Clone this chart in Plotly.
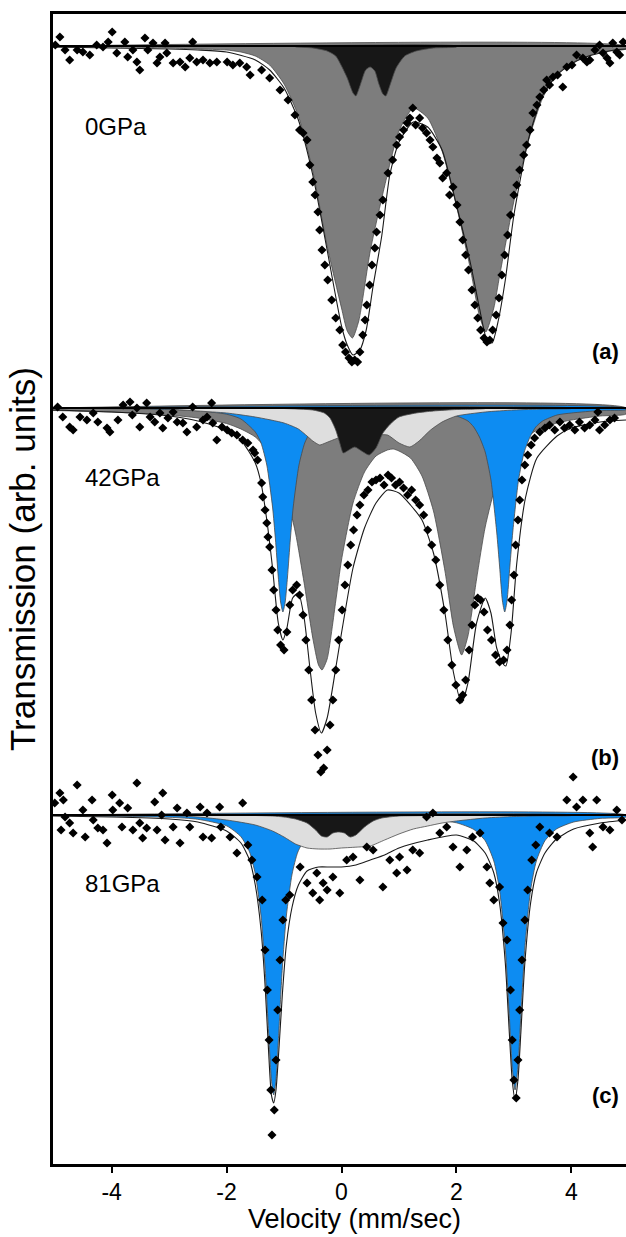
import plotly.graph_objects as go

# ---------------- panel offsets (baseline of each spectrum, arb. units) -------------
OFF_A, OFF_B, OFF_C = 11.18, 7.56, 3.49
PANEL_LABELS = ["0GPa", "42GPa", "81GPa"]
PANEL_TAGS = ["(a)", "(b)", "(c)"]
X_TICKS = [-4, -2, 0, 2, 4]

# ---------------- panel (a) 0 GPa ----------------
GRAY_A_V = [-5.02, -4.0, -3.0, -2.5, -2.0, -1.75, -1.5, -1.25, -1.0, -0.75, -0.5, -0.25, 0.0, 0.1, 0.19, 0.3,
            0.5, 0.75, 1.0, 1.25, 1.5, 1.75, 2.0, 2.25, 2.4, 2.51, 2.65, 2.75, 3.0, 3.25, 3.5, 3.75, 4.0, 4.5, 4.95]
GRAY_A_T = [-0.01, -0.01, -0.02, -0.03, -0.04, -0.06, -0.10, -0.19, -0.38, -0.70, -1.25, -2.00, -2.62, -2.85, -2.92,
            -2.75, -2.05, -1.40, -0.85, -0.62, -0.72, -1.05, -1.60, -2.25, -2.70, -2.86, -2.62, -2.30, -1.55, -0.95,
            -0.52, -0.28, -0.17, -0.06, -0.03]
DARK_A_V = [-0.8, -0.5, -0.25, -0.1, 0.0, 0.1, 0.2, 0.25, 0.32, 0.42, 0.5, 0.58, 0.65, 0.72, 0.77, 0.85, 0.95,
            1.1, 1.3, 1.6, 2.0]
DARK_A_T = [-0.01, -0.02, -0.05, -0.10, -0.20, -0.32, -0.47, -0.50, -0.40, -0.24, -0.21, -0.25, -0.38, -0.48,
            -0.50, -0.38, -0.22, -0.10, -0.05, -0.02, -0.01]
ENV_A_V = [-5.02, -3.0, -2.5, -2.0, -1.5, -1.25, -1.0, -0.75, -0.5, -0.25, 0.0, 0.1, 0.2, 0.32, 0.43, 0.55, 0.7,
           0.84, 1.0, 1.25, 1.5, 1.75, 2.0, 2.25, 2.4, 2.53, 2.62, 2.73, 2.85, 3.0, 3.25, 3.5, 3.75, 4.0, 4.25,
           4.5, 4.75, 4.95]
ENV_A_T = [-0.01, -0.03, -0.04, -0.06, -0.14, -0.24, -0.42, -0.74, -1.29, -2.04, -2.80, -2.99, -3.09, -3.04,
           -2.84, -2.40, -1.90, -1.29, -0.96, -0.76, -0.81, -1.04, -1.59, -2.19, -2.62, -2.94, -2.97, -2.74, -2.34,
           -1.69, -0.94, -0.49, -0.29, -0.18, -0.11, -0.07, -0.04, -0.03]
PTS_A_V = [-4.98, -4.90, -4.81, -4.73, -4.60, -4.50, -4.38, -4.26, -4.15, -4.06, -3.99, -3.91, -3.77, -3.72,
           -3.63, -3.56, -3.51, -3.42, -3.37, -3.28, -3.21, -3.16, -3.07, -3.04, -2.93, -2.81, -2.72, -2.64,
           -2.59, -2.52, -2.41, -2.29, -2.17, -1.99, -1.89, -1.77, -1.65, -1.59, -1.39, -1.25, -1.07, -0.93,
           -0.81, -0.73, -0.67, -0.60, -0.55, -0.50, -0.46, -0.41, -0.38, -0.34, -0.29, -0.24, -0.17, -0.10,
           -0.03, 0.02, 0.07, 0.13, 0.18, 0.23, 0.28, 0.32, 0.37, 0.41, 0.44, 0.49, 0.53, 0.58, 0.61, 0.67,
           0.72, 0.81, 0.89, 0.96, 1.01, 1.08, 1.14, 1.19, 1.24, 1.29, 1.36, 1.41, 1.48, 1.54, 1.59, 1.66, 1.71,
           1.76, 1.83, 1.88, 1.94, 2.01, 2.06, 2.11, 2.16, 2.21, 2.27, 2.32, 2.37, 2.42, 2.48, 2.53, 2.58, 2.63,
           2.69, 2.74, 2.79, 2.84, 2.89, 2.94, 3.00, 3.05, 3.10, 3.17, 3.22, 3.28, 3.33, 3.40, 3.45, 3.52, 3.57,
           3.62, 3.68, 3.76, 3.85, 3.92, 4.01, 4.09, 4.20, 4.27, 4.32, 4.41, 4.49, 4.55, 4.62, 4.67, 4.72, 4.79,
           4.84, 4.90]
PTS_A_T = [0.01, 0.09, -0.04, -0.14, -0.04, -0.06, -0.09, 0.01, -0.01, 0.04, 0.14, -0.07, 0.04, -0.11, -0.04,
           -0.16, -0.24, 0.08, -0.04, 0.03, -0.17, -0.11, 0.03, -0.07, -0.17, -0.16, -0.21, -0.12, 0.04, -0.16,
           -0.14, -0.17, -0.16, -0.16, -0.19, -0.17, -0.21, -0.29, -0.24, -0.32, -0.44, -0.54, -0.69, -0.84,
           -0.87, -0.94, -1.19, -1.36, -1.49, -1.66, -1.84, -2.04, -2.19, -2.34, -2.54, -2.72, -2.84, -2.99,
           -3.06, -3.12, -3.16, -3.14, -3.16, -3.06, -2.89, -2.74, -2.59, -2.39, -2.19, -2.02, -1.86, -1.69,
           -1.54, -1.27, -1.14, -0.99, -0.91, -0.84, -0.77, -0.72, -0.62, -0.79, -0.72, -0.82, -0.87, -0.94,
           -1.01, -1.12, -1.17, -1.32, -1.27, -1.49, -1.41, -1.59, -1.76, -1.94, -2.09, -2.24, -2.44, -2.59,
           -2.72, -2.84, -2.92, -2.96, -2.94, -2.84, -2.69, -2.52, -2.29, -2.09, -1.89, -1.69, -1.49, -1.39,
           -1.24, -1.09, -0.99, -0.84, -0.67, -0.59, -0.51, -0.44, -0.34, -0.39, -0.31, -0.29, -0.41, -0.21,
           -0.19, -0.09, -0.12, -0.16, -0.14, -0.04, 0.01, -0.07, -0.12, -0.17, 0.03, -0.06, -0.09, 0.04]

# ---------------- panel (b) 42 GPa ----------------
GRAY_B_V = [-5.02, -4.0, -3.0, -2.5, -2.0, -1.75, -1.5, -1.25, -1.0, -0.8, -0.65, -0.5, -0.4, -0.34, -0.25, -0.1,
            0.0, 0.2, 0.4, 0.6, 0.8, 0.9, 1.0, 1.2, 1.4, 1.6, 1.8, 1.95, 2.09, 2.2, 2.35, 2.5, 2.7, 2.9, 3.1, 3.4,
            3.75, 4.0, 4.5, 4.95]
GRAY_B_T = [-0.025, -0.04, -0.07, -0.10, -0.155, -0.21, -0.29, -0.45, -0.78, -1.25, -1.75, -2.30, -2.57, -2.62,
            -2.51, -1.93, -1.52, -0.95, -0.64, -0.48, -0.42, -0.41, -0.43, -0.50, -0.68, -1.03, -1.63, -2.19,
            -2.47, -2.28, -1.71, -1.19, -0.74, -0.49, -0.35, -0.22, -0.15, -0.12, -0.08, -0.06]
BLUE_B_V = [-5.02, -4.0, -3.0, -2.5, -2.0, -1.75, -1.5, -1.4, -1.3, -1.2, -1.15, -1.1, -1.06, -1.02, -0.98, -0.94,
            -0.89, -0.84, -0.74, -0.64, -0.54, -0.29, -0.04, 0.5, 1.0, 1.5, 2.0, 2.2, 2.3, 2.4, 2.5, 2.6, 2.7,
            2.75, 2.8, 2.84, 2.88, 2.93, 2.98, 3.08, 3.18, 3.28, 3.38, 3.5, 3.75, 4.0, 4.5, 4.95]
BLUE_B_T = [-0.004, -0.007, -0.016, -0.028, -0.062, -0.11, -0.24, -0.35, -0.57, -0.99, -1.31, -1.69, -1.94,
            -2.04, -1.94, -1.69, -1.31, -0.99, -0.57, -0.35, -0.24, -0.12, -0.07, -0.04, -0.03, -0.04, -0.08,
            -0.13, -0.19, -0.29, -0.44, -0.72, -1.24, -1.58, -1.93, -2.04, -1.93, -1.58, -1.24, -0.72, -0.44,
            -0.29, -0.19, -0.13, -0.07, -0.05, -0.025, -0.017]
LGRAY_B_V = [-3.0, -2.5, -2.0, -1.5, -1.0, -0.75, -0.6, -0.5, -0.38, -0.28, -0.15, 0.0, 0.3, 0.6, 0.8, 1.0, 1.19,
             1.35, 1.55, 1.75, 2.0, 2.5, 3.0, 3.5, 4.0]
LGRAY_B_T = [-0.01, -0.03, -0.05, -0.09, -0.15, -0.21, -0.28, -0.33, -0.37, -0.35, -0.32, -0.29, -0.28, -0.27,
             -0.27, -0.35, -0.39, -0.33, -0.22, -0.14, -0.08, -0.04, -0.02, -0.01, -0.005]
DARK_B_V = [-1.0, -0.5, -0.3, -0.2, -0.1, -0.03, 0.03, 0.1, 0.23, 0.35, 0.48, 0.6, 0.72, 0.85, 1.0, 1.3, 1.6,
            2.0, 2.5]
DARK_B_T = [-0.005, -0.02, -0.05, -0.10, -0.22, -0.35, -0.45, -0.43, -0.39, -0.43, -0.47, -0.40, -0.25, -0.16,
            -0.09, -0.05, -0.03, -0.015, -0.005]
ENV_B_V = [-5.02, -4.0, -3.0, -2.5, -2.0, -1.75, -1.5, -1.4, -1.3, -1.2, -1.1, -1.02, -0.95, -0.85, -0.75, -0.65,
           -0.55, -0.45, -0.35, -0.25, -0.1, 0.0, 0.2, 0.4, 0.6, 0.8, 1.0, 1.2, 1.4, 1.6, 1.8, 1.95, 2.09, 2.2,
           2.35, 2.5, 2.6, 2.7, 2.8, 2.86, 2.95, 3.05, 3.2, 3.4, 3.75, 4.0, 4.5, 4.95]
ENV_B_T = [-0.02, -0.04, -0.08, -0.13, -0.22, -0.32, -0.55, -0.75, -1.12, -1.60, -2.15, -2.32, -2.20, -1.90,
           -1.85, -2.10, -2.60, -3.05, -3.25, -3.10, -2.60, -2.25, -1.60, -1.20, -0.95, -0.82, -0.85, -0.97,
           -1.12, -1.45, -2.05, -2.65, -2.95, -2.75, -2.15, -1.90, -2.05, -2.40, -2.55, -2.58, -2.25, -1.55,
           -0.90, -0.50, -0.28, -0.20, -0.14, -0.12]
PTS_B_V = [-4.94, -4.85, -4.73, -4.67, -4.55, -4.43, -4.32, -4.24, -4.08, -4.03, -3.89, -3.80, -3.68, -3.64,
           -3.56, -3.51, -3.39, -3.33, -3.25, -3.16, -3.11, -3.02, -2.93, -2.86, -2.76, -2.69, -2.59, -2.52,
           -2.41, -2.34, -2.26, -2.24, -2.17, -2.08, -1.99, -1.91, -1.82, -1.72, -1.63, -1.54, -1.51, -1.46,
           -1.39, -1.37, -1.33, -1.30, -1.28, -1.25, -1.21, -1.18, -1.14, -1.11, -1.06, -1.00, -0.95, -0.90,
           -0.85, -0.78, -0.73, -0.67, -0.62, -0.57, -0.52, -0.46, -0.41, -0.36, -0.31, -0.25, -0.20, -0.15,
           -0.10, -0.05, 0.01, 0.06, 0.11, 0.16, 0.21, 0.27, 0.32, 0.39, 0.46, 0.53, 0.60, 0.67, 0.74, 0.81,
           0.87, 0.94, 1.01, 1.08, 1.15, 1.22, 1.29, 1.36, 1.43, 1.50, 1.57, 1.64, 1.71, 1.78, 1.85, 1.92, 1.99,
           2.06, 2.11, 2.16, 2.22, 2.27, 2.32, 2.37, 2.42, 2.48, 2.54, 2.61, 2.68, 2.75, 2.82, 2.88, 2.93, 2.96,
           3.00, 3.03, 3.07, 3.10, 3.14, 3.19, 3.24, 3.30, 3.36, 3.45, 3.54, 3.62, 3.71, 3.80, 3.88, 3.97, 4.06,
           4.14, 4.23, 4.32, 4.41, 4.46, 4.49, 4.58, 4.67, 4.75]
PTS_B_T = [0.01, -0.09, -0.19, -0.22, -0.09, -0.12, -0.05, -0.14, -0.20, -0.24, -0.12, 0.03, 0.06, -0.07, 0.00,
           -0.19, 0.05, -0.09, -0.14, -0.05, -0.20, -0.10, -0.04, -0.14, -0.15, -0.24, 0.01, -0.19, -0.12, -0.09,
           0.05, -0.15, -0.32, -0.19, -0.22, -0.25, -0.27, -0.32, -0.35, -0.42, -0.45, -0.52, -0.75, -0.89,
           -1.02, -1.15, -1.29, -1.39, -1.62, -1.82, -2.02, -2.22, -2.37, -2.42, -2.24, -1.97, -1.82, -1.77,
           -1.87, -2.07, -2.32, -2.62, -2.92, -3.22, -3.47, -3.64, -3.60, -3.42, -3.17, -2.92, -2.62, -2.32,
           -2.02, -1.77, -1.57, -1.37, -1.22, -1.07, -0.97, -0.87, -0.82, -0.74, -0.72, -0.70, -0.77, -0.67,
           -0.70, -0.77, -0.74, -0.80, -0.87, -0.82, -0.92, -0.97, -1.07, -1.22, -1.37, -1.52, -1.77, -2.02,
           -2.32, -2.57, -2.77, -2.92, -2.87, -2.72, -2.42, -2.17, -1.97, -1.90, -1.92, -2.04, -2.22, -2.32,
           -2.47, -2.54, -2.52, -2.42, -2.17, -1.92, -1.67, -1.37, -1.12, -0.92, -0.72, -0.57, -0.47, -0.37,
           -0.30, -0.24, -0.20, -0.17, -0.22, -0.14, -0.20, -0.17, -0.22, -0.14, -0.20, -0.17, -0.12, -0.04,
           -0.22, -0.17, -0.12, -0.10]

# ---------------- panel (c) 81 GPa ----------------
BLUE_C_V = [-5.02, -3.0, -2.5, -2.0, -1.75, -1.6, -1.5, -1.4, -1.33, -1.27, -1.22, -1.18, -1.14, -1.09, -1.03,
            -0.96, -0.86, -0.76, -0.61, -0.36, 0.14, 0.5, 1.0, 1.5, 2.0, 2.3, 2.5, 2.65, 2.75, 2.85, 2.92, 2.97,
            3.02, 3.07, 3.12, 3.19, 3.29, 3.39, 3.54, 3.74, 4.04, 4.5, 4.95]
BLUE_C_T = [-0.005, -0.023, -0.043, -0.108, -0.217, -0.37, -0.59, -1.01, -1.53, -2.16, -2.65, -2.80, -2.65,
            -2.16, -1.53, -1.01, -0.59, -0.37, -0.217, -0.108, -0.043, -0.027, -0.034, -0.043, -0.078, -0.144,
            -0.257, -0.46, -0.75, -1.33, -2.01, -2.52, -2.75, -2.52, -2.01, -1.33, -0.75, -0.46, -0.257, -0.14,
            -0.07, -0.034, -0.02]
LGRAY_C_V = [-3.0, -2.5, -2.0, -1.5, -1.2, -1.0, -0.8, -0.6, -0.4, -0.2, 0.0, 0.3, 0.5, 0.75, 1.0, 1.25, 1.5,
             1.75, 2.0, 2.5, 3.0, 3.5, 4.0]
LGRAY_C_T = [-0.005, -0.02, -0.05, -0.10, -0.16, -0.22, -0.29, -0.33, -0.34, -0.34, -0.33, -0.32, -0.31, -0.25,
             -0.19, -0.14, -0.11, -0.08, -0.06, -0.03, -0.015, -0.008, -0.005]
DARK_C_V = [-1.5, -1.2, -1.0, -0.8, -0.6, -0.45, -0.35, -0.25, -0.15, -0.05, 0.05, 0.15, 0.25, 0.4, 0.55, 0.7,
            1.0, 1.5]
DARK_C_T = [-0.005, -0.01, -0.02, -0.04, -0.08, -0.15, -0.21, -0.22, -0.18, -0.17, -0.18, -0.22, -0.20, -0.12,
            -0.06, -0.03, -0.01, -0.003]
ENV_C_V = [-5.02, -4.0, -3.0, -2.5, -2.0, -1.75, -1.6, -1.5, -1.4, -1.33, -1.27, -1.22, -1.18, -1.14, -1.09,
           -1.03, -0.96, -0.86, -0.75, -0.6, -0.4, -0.2, 0.0, 0.25, 0.5, 0.75, 1.0, 1.5, 2.0, 2.3, 2.5, 2.65,
           2.75, 2.85, 2.92, 2.97, 3.02, 3.07, 3.12, 3.19, 3.29, 3.39, 3.54, 3.74, 4.04, 4.5, 4.95]
ENV_C_T = [-0.01, -0.02, -0.04, -0.07, -0.16, -0.28, -0.45, -0.70, -1.15, -1.70, -2.35, -2.80, -2.88, -2.75,
           -2.35, -1.80, -1.30, -0.92, -0.70, -0.56, -0.52, -0.52, -0.52, -0.50, -0.45, -0.40, -0.33, -0.25,
           -0.20, -0.26, -0.38, -0.58, -0.88, -1.48, -2.18, -2.65, -2.85, -2.65, -2.18, -1.48, -0.88, -0.58,
           -0.38, -0.24, -0.14, -0.08, -0.05]
PTS_C_V = [-4.99, -4.90, -4.84, -4.81, -4.88, -4.73, -4.60, -4.67, -4.50, -4.46, -4.34, -4.32, -4.24, -4.15,
           -4.08, -3.99, -3.98, -3.86, -3.82, -3.72, -3.63, -3.56, -3.51, -3.46, -3.39, -3.25, -3.21, -3.13,
           -3.11, -3.07, -2.93, -2.86, -2.81, -2.69, -2.64, -2.46, -2.41, -2.34, -2.26, -2.12, -2.10, -1.94,
           -1.82, -1.72, -1.63, -1.56, -1.47, -1.38, -1.33, -1.29, -1.26, -1.23, -1.21, -1.17, -1.14, -1.11,
           -1.07, -1.02, -0.97, -0.90, -0.72, -0.60, -0.50, -0.43, -0.38, -0.32, -0.25, -0.15, -0.03, 0.09, 0.20,
           0.32, 0.44, 0.55, 0.72, 0.84, 0.96, 1.01, 1.14, 1.24, 1.36, 1.48, 1.59, 1.71, 1.83, 1.94, 2.06, 2.18,
           2.28, 2.41, 2.53, 2.58, 2.65, 2.75, 2.81, 2.88, 2.94, 2.97, 3.00, 3.04, 3.07, 3.10, 3.14, 3.19, 3.24,
           3.31, 3.38, 3.45, 3.62, 3.75, 3.92, 4.03, 4.09, 4.20, 4.32, 4.37, 4.44, 4.55, 4.67, 4.79, 4.88]
PTS_C_T = [0.12, 0.22, 0.15, -0.02, -0.15, -0.08, 0.30, -0.18, 0.05, -0.22, 0.15, -0.05, -0.13, -0.15, -0.28,
           0.20, 0.05, 0.12, -0.12, 0.07, -0.15, 0.32, -0.08, -0.23, -0.13, 0.13, -0.15, 0.00, 0.22, -0.25,
           -0.12, 0.07, -0.28, 0.02, -0.12, 0.08, -0.22, 0.02, -0.23, 0.08, -0.12, -0.22, -0.38, 0.12, -0.30,
           -0.45, -0.62, -0.85, -1.35, -1.75, -2.25, -2.75, -3.20, -2.95, -2.45, -1.95, -1.45, -1.05, -0.85,
           -0.80, -0.52, -0.68, -0.78, -0.58, -0.85, -0.68, -0.75, -0.62, -0.78, -0.45, -0.42, -0.65, -0.32,
           -0.35, -0.72, -0.45, -0.58, -0.42, -0.55, -0.35, -0.38, -0.02, 0.02, -0.18, -0.12, -0.32, -0.52,
           -0.35, -0.22, -0.18, -0.52, -0.68, -0.85, -0.72, -1.08, -1.25, -1.75, -2.25, -2.65, -2.83, -2.45,
           -1.95, -1.45, -1.05, -0.75, -0.45, -0.30, -0.12, -0.18, -0.22, 0.15, 0.38, 0.08, 0.15, -0.18, -0.32,
           0.15, -0.12, -0.15, 0.05, -0.05]

X_RANGE = [-5.02, 4.95]
Y_RANGE = [0.0, 11.5]

COL_GRAY = "#7d7d7d"
COL_DARK = "#171717"
COL_LGRAY = "#dedede"
COL_BLUE = "#0d8cf2"
FONT = "Arial, Liberation Sans, sans-serif"

fig = go.Figure()


def add_component(v, t, off, color):
    xs = list(v) + [v[-1], v[0]]
    ys = [off + val for val in t] + [off, off]
    fig.add_trace(go.Scatter(x=xs, y=ys, mode="lines", fill="toself", fillcolor=color,
                             line=dict(color="#4a4a4a", width=0.8, shape="spline", smoothing=0.6),
                             hoverinfo="skip", showlegend=False))


def add_env(v, t, off):
    fig.add_trace(go.Scatter(x=v, y=[off + val for val in t], mode="lines",
                             line=dict(color="#1a1a1a", width=1.1, shape="spline", smoothing=0.6),
                             hoverinfo="skip", showlegend=False))


def add_points(v, t, off):
    fig.add_trace(go.Scatter(x=v, y=[off + val for val in t], mode="markers",
                             marker=dict(symbol="diamond", size=7, color="black"),
                             hoverinfo="skip", showlegend=False))


def add_baseline(off):
    fig.add_trace(go.Scatter(x=X_RANGE, y=[off, off], mode="lines",
                             line=dict(color="black", width=2.2), hoverinfo="skip", showlegend=False))


# panel a
add_component(GRAY_A_V, GRAY_A_T, OFF_A, COL_GRAY)
add_component(DARK_A_V, DARK_A_T, OFF_A, COL_DARK)
add_env(ENV_A_V, ENV_A_T, OFF_A)
add_baseline(OFF_A)
add_points(PTS_A_V, PTS_A_T, OFF_A)

# panel b  (gray below blue, light gray and black on top)
add_component(GRAY_B_V, GRAY_B_T, OFF_B, COL_GRAY)
add_component(BLUE_B_V, BLUE_B_T, OFF_B, COL_BLUE)
add_component(LGRAY_B_V, LGRAY_B_T, OFF_B, COL_LGRAY)
add_component(DARK_B_V, DARK_B_T, OFF_B, COL_DARK)
add_env(ENV_B_V, ENV_B_T, OFF_B)
add_baseline(OFF_B)
add_points(PTS_B_V, PTS_B_T, OFF_B)

# panel c
add_component(BLUE_C_V, BLUE_C_T, OFF_C, COL_BLUE)
add_component(LGRAY_C_V, LGRAY_C_T, OFF_C, COL_LGRAY)
add_component(DARK_C_V, DARK_C_T, OFF_C, COL_DARK)
add_env(ENV_C_V, ENV_C_T, OFF_C)
add_baseline(OFF_C)
add_points(PTS_C_V, PTS_C_T, OFF_C)

# panel texts
label_y = [10.38, 6.87, 2.81]
tag_y = [8.13, 4.07, 0.69]
for txt, yy in zip(PANEL_LABELS, label_y):
    fig.add_annotation(x=-4.5, y=yy, text=txt, showarrow=False, xanchor="left", yanchor="middle",
                       font=dict(family=FONT, size=24, color="black"))
for txt, yy in zip(PANEL_TAGS, tag_y):
    fig.add_annotation(x=4.59, y=yy, text="<b>" + txt + "</b>", showarrow=False, xanchor="center",
                       yanchor="middle", font=dict(family=FONT, size=22, color="black"))

fig.add_annotation(x=0.23, xref="x", y=0, yref="paper", text="Velocity (mm/sec)", showarrow=False,
                   xanchor="center", yanchor="middle", yshift=-55,
                   font=dict(family=FONT, size=27, color="black"))
fig.add_annotation(x=0, xref="paper", y=6.05, yref="y", text="Transmission (arb. units)", showarrow=False,
                   textangle=-90, xanchor="center", yanchor="middle", xshift=-31,
                   font=dict(family=FONT, size=35, color="black"))

fig.update_xaxes(range=X_RANGE, tickvals=X_TICKS, ticktext=[str(t) for t in X_TICKS], ticks="outside",
                 ticklen=6, tickwidth=2, tickcolor="black", showline=True, linewidth=2.5, linecolor="black",
                 mirror=True, showgrid=False, zeroline=False,
                 tickfont=dict(family=FONT, size=23, color="black"))
fig.update_yaxes(range=Y_RANGE, showline=True, linewidth=2.5, linecolor="black", mirror=False,
                 showticklabels=False, ticks="", showgrid=False, zeroline=False)

fig.update_layout(width=626, height=1237, margin=dict(l=53, r=0, t=14, b=73),
                  paper_bgcolor="white", plot_bgcolor="white", showlegend=False)

fig.write_html("out.html")
